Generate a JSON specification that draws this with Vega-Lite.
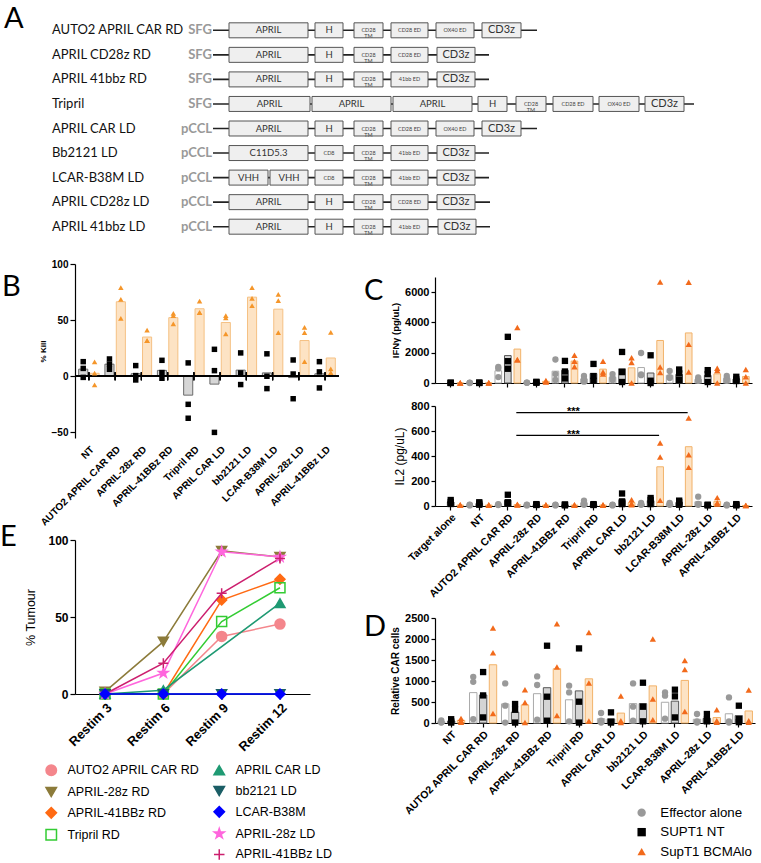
{
"$schema":"https://vega.github.io/schema/vega-lite/v6.json",
"background":"white",
"padding":0,
"config":{
 "view":{"stroke":null},
 "font":"Liberation Sans",
 "axis":{"grid":false,"labelFont":"Liberation Sans","titleFont":"Liberation Sans","labelColor":"#000","titleColor":"#000","domainColor":"#000","tickColor":"#000","labelFontWeight":"bold","labelFontSize":10.5,"titleFontSize":10,"titleFontWeight":"bold","domainWidth":1.2,"tickWidth":1.2,"tickSize":4},
 "title":{"font":"Lato","fontSize":29,"fontWeight":"normal","anchor":"start","frame":"group","baseline":"top","color":"#000"},
 "legend":{"labelFont":"Liberation Sans","labelColor":"#000"}
},
"datasets":{
 "constructs":[
  {"construct":"AUTO2 APRIL CAR RD","vector":"SFG","lineStart":213,"lineEnd":537},
  {"construct":"APRIL CD28z RD","vector":"SFG","lineStart":213,"lineEnd":489},
  {"construct":"APRIL 41bbz RD","vector":"SFG","lineStart":213,"lineEnd":489},
  {"construct":"Tripril","vector":"SFG","lineStart":213,"lineEnd":694},
  {"construct":"APRIL CAR LD","vector":"pCCL","lineStart":213,"lineEnd":537},
  {"construct":"Bb2121 LD","vector":"pCCL","lineStart":213,"lineEnd":489},
  {"construct":"LCAR-B38M LD","vector":"pCCL","lineStart":213,"lineEnd":489},
  {"construct":"APRIL CD28z LD","vector":"pCCL","lineStart":213,"lineEnd":490},
  {"construct":"APRIL 41bbz LD","vector":"pCCL","lineStart":213,"lineEnd":490}
 ],
 "parts":[
  {"construct":"AUTO2 APRIL CAR RD","key":"APRIL","label":"APRIL","start":229,"end":308},
  {"construct":"AUTO2 APRIL CAR RD","key":"H","label":"H","start":315,"end":343},
  {"construct":"AUTO2 APRIL CAR RD","key":"TM","label":"CD28\nTM","start":354,"end":383},
  {"construct":"AUTO2 APRIL CAR RD","key":"CD28ED","label":"CD28 ED","start":391,"end":428},
  {"construct":"AUTO2 APRIL CAR RD","key":"OX40ED","label":"OX40 ED","start":436,"end":474},
  {"construct":"AUTO2 APRIL CAR RD","key":"CD3z","label":"CD3z","start":482,"end":521},
  {"construct":"APRIL CD28z RD","key":"APRIL","label":"APRIL","start":229,"end":308},
  {"construct":"APRIL CD28z RD","key":"H","label":"H","start":315,"end":343},
  {"construct":"APRIL CD28z RD","key":"TM","label":"CD28\nTM","start":354,"end":383},
  {"construct":"APRIL CD28z RD","key":"CD28ED","label":"CD28 ED","start":391,"end":428},
  {"construct":"APRIL CD28z RD","key":"CD3z","label":"CD3z","start":437,"end":475},
  {"construct":"APRIL 41bbz RD","key":"APRIL","label":"APRIL","start":229,"end":308},
  {"construct":"APRIL 41bbz RD","key":"H","label":"H","start":315,"end":343},
  {"construct":"APRIL 41bbz RD","key":"TM","label":"CD28\nTM","start":354,"end":383},
  {"construct":"APRIL 41bbz RD","key":"41bbED","label":"41bb ED","start":391,"end":428},
  {"construct":"APRIL 41bbz RD","key":"CD3z","label":"CD3z","start":437,"end":475},
  {"construct":"Tripril","key":"APRIL1","label":"APRIL","start":229,"end":310},
  {"construct":"Tripril","key":"APRIL2","label":"APRIL","start":312,"end":391},
  {"construct":"Tripril","key":"APRIL3","label":"APRIL","start":393,"end":472},
  {"construct":"Tripril","key":"H","label":"H","start":478,"end":507},
  {"construct":"Tripril","key":"TM","label":"CD28\nTM","start":516,"end":546},
  {"construct":"Tripril","key":"CD28ED","label":"CD28 ED","start":553,"end":593},
  {"construct":"Tripril","key":"OX40ED","label":"OX40 ED","start":599,"end":639},
  {"construct":"Tripril","key":"CD3z","label":"CD3z","start":645,"end":684},
  {"construct":"APRIL CAR LD","key":"APRIL","label":"APRIL","start":229,"end":308},
  {"construct":"APRIL CAR LD","key":"H","label":"H","start":315,"end":343},
  {"construct":"APRIL CAR LD","key":"TM","label":"CD28\nTM","start":354,"end":383},
  {"construct":"APRIL CAR LD","key":"CD28ED","label":"CD28 ED","start":391,"end":428},
  {"construct":"APRIL CAR LD","key":"OX40ED","label":"OX40 ED","start":436,"end":474},
  {"construct":"APRIL CAR LD","key":"CD3z","label":"CD3z","start":482,"end":521},
  {"construct":"Bb2121 LD","key":"C11","label":"C11D5.3","start":229,"end":308},
  {"construct":"Bb2121 LD","key":"CD8","label":"CD8","start":315,"end":343},
  {"construct":"Bb2121 LD","key":"TM","label":"CD28\nTM","start":354,"end":383},
  {"construct":"Bb2121 LD","key":"41bbED","label":"41bb ED","start":391,"end":428},
  {"construct":"Bb2121 LD","key":"CD3z","label":"CD3z","start":437,"end":475},
  {"construct":"LCAR-B38M LD","key":"VHH1","label":"VHH","start":229,"end":268},
  {"construct":"LCAR-B38M LD","key":"VHH2","label":"VHH","start":270,"end":308},
  {"construct":"LCAR-B38M LD","key":"CD8","label":"CD8","start":315,"end":343},
  {"construct":"LCAR-B38M LD","key":"TM","label":"CD28\nTM","start":354,"end":383},
  {"construct":"LCAR-B38M LD","key":"41bbED","label":"41bb ED","start":391,"end":428},
  {"construct":"LCAR-B38M LD","key":"CD3z","label":"CD3z","start":437,"end":475},
  {"construct":"APRIL CD28z LD","key":"APRIL","label":"APRIL","start":229,"end":308},
  {"construct":"APRIL CD28z LD","key":"H","label":"H","start":315,"end":343},
  {"construct":"APRIL CD28z LD","key":"TM","label":"CD28\nTM","start":354,"end":383},
  {"construct":"APRIL CD28z LD","key":"CD28ED","label":"CD28 ED","start":391,"end":428},
  {"construct":"APRIL CD28z LD","key":"CD3z","label":"CD3z","start":437,"end":475},
  {"construct":"APRIL 41bbz LD","key":"APRIL","label":"APRIL","start":229,"end":308},
  {"construct":"APRIL 41bbz LD","key":"H","label":"H","start":315,"end":343},
  {"construct":"APRIL 41bbz LD","key":"TM","label":"CD28\nTM","start":354,"end":383},
  {"construct":"APRIL 41bbz LD","key":"41bbED","label":"41bb ED","start":391,"end":428},
  {"construct":"APRIL 41bbz LD","key":"CD3z","label":"CD3z","start":438,"end":476}
 ],
 "kill":[
  {"group":"NT","target":"SUPT1 NT","value":13},{"group":"NT","target":"SUPT1 NT","value":7},{"group":"NT","target":"SUPT1 NT","value":-1},
  {"group":"NT","target":"SupT1 BCMAlo","value":12.9},{"group":"NT","target":"SupT1 BCMAlo","value":2.7},{"group":"NT","target":"SupT1 BCMAlo","value":-7.7},
  {"group":"AUTO2 APRIL CAR RD","target":"SUPT1 NT","value":15.4},{"group":"AUTO2 APRIL CAR RD","target":"SUPT1 NT","value":10.7},{"group":"AUTO2 APRIL CAR RD","target":"SUPT1 NT","value":6.2},
  {"group":"AUTO2 APRIL CAR RD","target":"SupT1 BCMAlo","value":79},{"group":"AUTO2 APRIL CAR RD","target":"SupT1 BCMAlo","value":68.5},{"group":"AUTO2 APRIL CAR RD","target":"SupT1 BCMAlo","value":51.6},
  {"group":"APRIL-28z RD","target":"SUPT1 NT","value":9.5},{"group":"APRIL-28z RD","target":"SUPT1 NT","value":0.6},{"group":"APRIL-28z RD","target":"SUPT1 NT","value":-3.3},
  {"group":"APRIL-28z RD","target":"SupT1 BCMAlo","value":41.2},{"group":"APRIL-28z RD","target":"SupT1 BCMAlo","value":31.8},{"group":"APRIL-28z RD","target":"SupT1 BCMAlo","value":31.8},
  {"group":"APRIL-41BBz RD","target":"SUPT1 NT","value":14.2},{"group":"APRIL-41BBz RD","target":"SUPT1 NT","value":3.3},{"group":"APRIL-41BBz RD","target":"SUPT1 NT","value":-1.8},
  {"group":"APRIL-41BBz RD","target":"SupT1 BCMAlo","value":56},{"group":"APRIL-41BBz RD","target":"SupT1 BCMAlo","value":54},{"group":"APRIL-41BBz RD","target":"SupT1 BCMAlo","value":46.6},
  {"group":"Tripril RD","target":"SUPT1 NT","value":11.9},{"group":"Tripril RD","target":"SUPT1 NT","value":-25},{"group":"Tripril RD","target":"SUPT1 NT","value":-37.4},
  {"group":"Tripril RD","target":"SupT1 BCMAlo","value":67},{"group":"Tripril RD","target":"SupT1 BCMAlo","value":56.7},{"group":"Tripril RD","target":"SupT1 BCMAlo","value":56.7},
  {"group":"APRIL CAR LD","target":"SUPT1 NT","value":24},{"group":"APRIL CAR LD","target":"SUPT1 NT","value":5},{"group":"APRIL CAR LD","target":"SUPT1 NT","value":-50},
  {"group":"APRIL CAR LD","target":"SupT1 BCMAlo","value":54},{"group":"APRIL CAR LD","target":"SupT1 BCMAlo","value":52},{"group":"APRIL CAR LD","target":"SupT1 BCMAlo","value":37.7},
  {"group":"bb2121 LD","target":"SUPT1 NT","value":20.8},{"group":"bb2121 LD","target":"SUPT1 NT","value":3},{"group":"bb2121 LD","target":"SUPT1 NT","value":-7.4},
  {"group":"bb2121 LD","target":"SupT1 BCMAlo","value":79},{"group":"bb2121 LD","target":"SupT1 BCMAlo","value":69.4},{"group":"bb2121 LD","target":"SupT1 BCMAlo","value":63},
  {"group":"LCAR-B38M LD","target":"SUPT1 NT","value":20},{"group":"LCAR-B38M LD","target":"SUPT1 NT","value":0},{"group":"LCAR-B38M LD","target":"SUPT1 NT","value":-11},
  {"group":"LCAR-B38M LD","target":"SupT1 BCMAlo","value":73},{"group":"LCAR-B38M LD","target":"SupT1 BCMAlo","value":67.4},{"group":"LCAR-B38M LD","target":"SupT1 BCMAlo","value":38.9},
  {"group":"APRIL-28z LD","target":"SUPT1 NT","value":14.5},{"group":"APRIL-28z LD","target":"SUPT1 NT","value":2},{"group":"APRIL-28z LD","target":"SUPT1 NT","value":-20},
  {"group":"APRIL-28z LD","target":"SupT1 BCMAlo","value":43.6},{"group":"APRIL-28z LD","target":"SupT1 BCMAlo","value":38.9},{"group":"APRIL-28z LD","target":"SupT1 BCMAlo","value":13},
  {"group":"APRIL-41BBz LD","target":"SUPT1 NT","value":13},{"group":"APRIL-41BBz LD","target":"SUPT1 NT","value":3.9},{"group":"APRIL-41BBz LD","target":"SUPT1 NT","value":-10.4},
  {"group":"APRIL-41BBz LD","target":"SupT1 BCMAlo","value":39},{"group":"APRIL-41BBz LD","target":"SupT1 BCMAlo","value":6.5},{"group":"APRIL-41BBz LD","target":"SupT1 BCMAlo","value":3.3}
 ],
 "cyto":[
  {"group":"Target alone","target":"SUPT1 NT","ifn":20,"il2":48},{"group":"Target alone","target":"SUPT1 NT","ifn":10,"il2":32},{"group":"Target alone","target":"SUPT1 NT","ifn":0,"il2":16},
  {"group":"Target alone","target":"SupT1 BCMAlo","ifn":10,"il2":10},{"group":"Target alone","target":"SupT1 BCMAlo","ifn":0,"il2":8},{"group":"Target alone","target":"SupT1 BCMAlo","ifn":0,"il2":5},
  {"group":"NT","target":"Effector alone","ifn":20,"il2":10},{"group":"NT","target":"Effector alone","ifn":10,"il2":8},{"group":"NT","target":"Effector alone","ifn":0,"il2":5},
  {"group":"NT","target":"SUPT1 NT","ifn":30,"il2":30},{"group":"NT","target":"SUPT1 NT","ifn":10,"il2":20},{"group":"NT","target":"SUPT1 NT","ifn":0,"il2":10},
  {"group":"NT","target":"SupT1 BCMAlo","ifn":20,"il2":10},{"group":"NT","target":"SupT1 BCMAlo","ifn":10,"il2":8},{"group":"NT","target":"SupT1 BCMAlo","ifn":0,"il2":5},
  {"group":"AUTO2 APRIL CAR RD","target":"Effector alone","ifn":1070,"il2":15},{"group":"AUTO2 APRIL CAR RD","target":"Effector alone","ifn":960,"il2":10},{"group":"AUTO2 APRIL CAR RD","target":"Effector alone","ifn":390,"il2":8},
  {"group":"AUTO2 APRIL CAR RD","target":"SUPT1 NT","ifn":3050,"il2":90},{"group":"AUTO2 APRIL CAR RD","target":"SUPT1 NT","ifn":1440,"il2":30},{"group":"AUTO2 APRIL CAR RD","target":"SUPT1 NT","ifn":940,"il2":20},
  {"group":"AUTO2 APRIL CAR RD","target":"SupT1 BCMAlo","ifn":3660,"il2":15},{"group":"AUTO2 APRIL CAR RD","target":"SupT1 BCMAlo","ifn":1530,"il2":10},{"group":"AUTO2 APRIL CAR RD","target":"SupT1 BCMAlo","ifn":1530,"il2":8},
  {"group":"APRIL-28z RD","target":"Effector alone","ifn":30,"il2":10},{"group":"APRIL-28z RD","target":"Effector alone","ifn":20,"il2":8},{"group":"APRIL-28z RD","target":"Effector alone","ifn":10,"il2":5},
  {"group":"APRIL-28z RD","target":"SUPT1 NT","ifn":80,"il2":15},{"group":"APRIL-28z RD","target":"SUPT1 NT","ifn":40,"il2":10},{"group":"APRIL-28z RD","target":"SUPT1 NT","ifn":20,"il2":8},
  {"group":"APRIL-28z RD","target":"SupT1 BCMAlo","ifn":170,"il2":10},{"group":"APRIL-28z RD","target":"SupT1 BCMAlo","ifn":100,"il2":8},{"group":"APRIL-28z RD","target":"SupT1 BCMAlo","ifn":60,"il2":5},
  {"group":"APRIL-41BBz RD","target":"Effector alone","ifn":1550,"il2":10},{"group":"APRIL-41BBz RD","target":"Effector alone","ifn":590,"il2":8},{"group":"APRIL-41BBz RD","target":"Effector alone","ifn":200,"il2":5},
  {"group":"APRIL-41BBz RD","target":"SUPT1 NT","ifn":1460,"il2":12},{"group":"APRIL-41BBz RD","target":"SUPT1 NT","ifn":760,"il2":10},{"group":"APRIL-41BBz RD","target":"SUPT1 NT","ifn":300,"il2":5},
  {"group":"APRIL-41BBz RD","target":"SupT1 BCMAlo","ifn":1830,"il2":10},{"group":"APRIL-41BBz RD","target":"SupT1 BCMAlo","ifn":1440,"il2":8},{"group":"APRIL-41BBz RD","target":"SupT1 BCMAlo","ifn":1070,"il2":5},
  {"group":"Tripril RD","target":"Effector alone","ifn":460,"il2":43},{"group":"Tripril RD","target":"Effector alone","ifn":260,"il2":24},{"group":"Tripril RD","target":"Effector alone","ifn":90,"il2":10},
  {"group":"Tripril RD","target":"SUPT1 NT","ifn":1260,"il2":15},{"group":"Tripril RD","target":"SUPT1 NT","ifn":460,"il2":10},{"group":"Tripril RD","target":"SUPT1 NT","ifn":150,"il2":8},
  {"group":"Tripril RD","target":"SupT1 BCMAlo","ifn":1440,"il2":10},{"group":"Tripril RD","target":"SupT1 BCMAlo","ifn":720,"il2":8},{"group":"Tripril RD","target":"SupT1 BCMAlo","ifn":590,"il2":5},
  {"group":"APRIL CAR LD","target":"Effector alone","ifn":590,"il2":10},{"group":"APRIL CAR LD","target":"Effector alone","ifn":350,"il2":8},{"group":"APRIL CAR LD","target":"Effector alone","ifn":200,"il2":5},
  {"group":"APRIL CAR LD","target":"SUPT1 NT","ifn":2050,"il2":100},{"group":"APRIL CAR LD","target":"SUPT1 NT","ifn":720,"il2":37},{"group":"APRIL CAR LD","target":"SUPT1 NT","ifn":65,"il2":15},
  {"group":"APRIL CAR LD","target":"SupT1 BCMAlo","ifn":1660,"il2":50},{"group":"APRIL CAR LD","target":"SupT1 BCMAlo","ifn":1350,"il2":20},{"group":"APRIL CAR LD","target":"SupT1 BCMAlo","ifn":0,"il2":10},
  {"group":"bb2121 LD","target":"Effector alone","ifn":1980,"il2":24},{"group":"bb2121 LD","target":"Effector alone","ifn":520,"il2":15},{"group":"bb2121 LD","target":"Effector alone","ifn":560,"il2":10},
  {"group":"bb2121 LD","target":"SUPT1 NT","ifn":1830,"il2":64},{"group":"bb2121 LD","target":"SUPT1 NT","ifn":150,"il2":48},{"group":"bb2121 LD","target":"SUPT1 NT","ifn":0,"il2":15},
  {"group":"bb2121 LD","target":"SupT1 BCMAlo","ifn":6670,"il2":504},{"group":"bb2121 LD","target":"SupT1 BCMAlo","ifn":1050,"il2":392},{"group":"bb2121 LD","target":"SupT1 BCMAlo","ifn":700,"il2":45},
  {"group":"LCAR-B38M LD","target":"Effector alone","ifn":800,"il2":24},{"group":"LCAR-B38M LD","target":"Effector alone","ifn":390,"il2":15},{"group":"LCAR-B38M LD","target":"Effector alone","ifn":330,"il2":10},
  {"group":"LCAR-B38M LD","target":"SUPT1 NT","ifn":890,"il2":43},{"group":"LCAR-B38M LD","target":"SUPT1 NT","ifn":630,"il2":32},{"group":"LCAR-B38M LD","target":"SUPT1 NT","ifn":200,"il2":10},
  {"group":"LCAR-B38M LD","target":"SupT1 BCMAlo","ifn":6650,"il2":704},{"group":"LCAR-B38M LD","target":"SupT1 BCMAlo","ifn":2550,"il2":410},{"group":"LCAR-B38M LD","target":"SupT1 BCMAlo","ifn":720,"il2":309},
  {"group":"APRIL-28z LD","target":"Effector alone","ifn":370,"il2":75},{"group":"APRIL-28z LD","target":"Effector alone","ifn":200,"il2":16},{"group":"APRIL-28z LD","target":"Effector alone","ifn":150,"il2":10},
  {"group":"APRIL-28z LD","target":"SUPT1 NT","ifn":850,"il2":10},{"group":"APRIL-28z LD","target":"SUPT1 NT","ifn":590,"il2":8},{"group":"APRIL-28z LD","target":"SUPT1 NT","ifn":65,"il2":5},
  {"group":"APRIL-28z LD","target":"SupT1 BCMAlo","ifn":980,"il2":67},{"group":"APRIL-28z LD","target":"SupT1 BCMAlo","ifn":830,"il2":27},{"group":"APRIL-28z LD","target":"SupT1 BCMAlo","ifn":0,"il2":16},
  {"group":"APRIL-41BBz LD","target":"Effector alone","ifn":460,"il2":10},{"group":"APRIL-41BBz LD","target":"Effector alone","ifn":300,"il2":8},{"group":"APRIL-41BBz LD","target":"Effector alone","ifn":150,"il2":5},
  {"group":"APRIL-41BBz LD","target":"SUPT1 NT","ifn":410,"il2":15},{"group":"APRIL-41BBz LD","target":"SUPT1 NT","ifn":240,"il2":10},{"group":"APRIL-41BBz LD","target":"SUPT1 NT","ifn":130,"il2":5},
  {"group":"APRIL-41BBz LD","target":"SupT1 BCMAlo","ifn":890,"il2":5},{"group":"APRIL-41BBz LD","target":"SupT1 BCMAlo","ifn":410,"il2":4},{"group":"APRIL-41BBz LD","target":"SupT1 BCMAlo","ifn":0,"il2":3}
 ],
 "sigline":[
  {"bracket":"b1","group":"AUTO2 APRIL CAR RD","y":747},{"bracket":"b1","group":"LCAR-B38M LD","y":747},
  {"bracket":"b2","group":"AUTO2 APRIL CAR RD","y":565},{"bracket":"b2","group":"bb2121 LD","y":565}
 ],
 "sigtext":[
  {"group":"APRIL-41BBz RD","y":747,"label":"***"},
  {"group":"APRIL-41BBz RD","y":565,"label":"***"}
 ],
 "car":[
  {"group":"NT","target":"Effector alone","value":60},{"group":"NT","target":"Effector alone","value":20},{"group":"NT","target":"Effector alone","value":10},
  {"group":"NT","target":"SUPT1 NT","value":90},{"group":"NT","target":"SUPT1 NT","value":40},{"group":"NT","target":"SUPT1 NT","value":10},
  {"group":"NT","target":"SupT1 BCMAlo","value":110},{"group":"NT","target":"SupT1 BCMAlo","value":60},{"group":"NT","target":"SupT1 BCMAlo","value":20},
  {"group":"AUTO2 APRIL CAR RD","target":"Effector alone","value":1100},{"group":"AUTO2 APRIL CAR RD","target":"Effector alone","value":980},{"group":"AUTO2 APRIL CAR RD","target":"Effector alone","value":90},
  {"group":"AUTO2 APRIL CAR RD","target":"SUPT1 NT","value":1213},{"group":"AUTO2 APRIL CAR RD","target":"SUPT1 NT","value":657},{"group":"AUTO2 APRIL CAR RD","target":"SUPT1 NT","value":133},
  {"group":"AUTO2 APRIL CAR RD","target":"SupT1 BCMAlo","value":2260},{"group":"AUTO2 APRIL CAR RD","target":"SupT1 BCMAlo","value":1673},{"group":"AUTO2 APRIL CAR RD","target":"SupT1 BCMAlo","value":228},
  {"group":"APRIL-28z RD","target":"Effector alone","value":943},{"group":"APRIL-28z RD","target":"Effector alone","value":412},{"group":"APRIL-28z RD","target":"Effector alone","value":10},
  {"group":"APRIL-28z RD","target":"SUPT1 NT","value":452},{"group":"APRIL-28z RD","target":"SUPT1 NT","value":316},{"group":"APRIL-28z RD","target":"SUPT1 NT","value":10},
  {"group":"APRIL-28z RD","target":"SupT1 BCMAlo","value":793},{"group":"APRIL-28z RD","target":"SupT1 BCMAlo","value":490},{"group":"APRIL-28z RD","target":"SupT1 BCMAlo","value":10},
  {"group":"APRIL-41BBz RD","target":"Effector alone","value":1110},{"group":"APRIL-41BBz RD","target":"Effector alone","value":904},{"group":"APRIL-41BBz RD","target":"Effector alone","value":80},
  {"group":"APRIL-41BBz RD","target":"SUPT1 NT","value":1840},{"group":"APRIL-41BBz RD","target":"SUPT1 NT","value":626},{"group":"APRIL-41BBz RD","target":"SUPT1 NT","value":55},
  {"group":"APRIL-41BBz RD","target":"SupT1 BCMAlo","value":2363},{"group":"APRIL-41BBz RD","target":"SupT1 BCMAlo","value":1333},{"group":"APRIL-41BBz RD","target":"SupT1 BCMAlo","value":181},
  {"group":"Tripril RD","target":"Effector alone","value":888},{"group":"Tripril RD","target":"Effector alone","value":729},{"group":"Tripril RD","target":"Effector alone","value":40},
  {"group":"Tripril RD","target":"SUPT1 NT","value":1776},{"group":"Tripril RD","target":"SUPT1 NT","value":507},{"group":"Tripril RD","target":"SUPT1 NT","value":10},
  {"group":"Tripril RD","target":"SupT1 BCMAlo","value":2157},{"group":"Tripril RD","target":"SupT1 BCMAlo","value":952},{"group":"Tripril RD","target":"SupT1 BCMAlo","value":48},
  {"group":"APRIL CAR LD","target":"Effector alone","value":238},{"group":"APRIL CAR LD","target":"Effector alone","value":55},{"group":"APRIL CAR LD","target":"Effector alone","value":10},
  {"group":"APRIL CAR LD","target":"SUPT1 NT","value":253},{"group":"APRIL CAR LD","target":"SUPT1 NT","value":30},{"group":"APRIL CAR LD","target":"SUPT1 NT","value":10},
  {"group":"APRIL CAR LD","target":"SupT1 BCMAlo","value":642},{"group":"APRIL CAR LD","target":"SupT1 BCMAlo","value":55},{"group":"APRIL CAR LD","target":"SupT1 BCMAlo","value":10},
  {"group":"bb2121 LD","target":"Effector alone","value":943},{"group":"bb2121 LD","target":"Effector alone","value":388},{"group":"bb2121 LD","target":"Effector alone","value":55},
  {"group":"bb2121 LD","target":"SUPT1 NT","value":959},{"group":"bb2121 LD","target":"SUPT1 NT","value":388},{"group":"bb2121 LD","target":"SUPT1 NT","value":40},
  {"group":"bb2121 LD","target":"SupT1 BCMAlo","value":2000},{"group":"bb2121 LD","target":"SupT1 BCMAlo","value":571},{"group":"bb2121 LD","target":"SupT1 BCMAlo","value":80},
  {"group":"LCAR-B38M LD","target":"Effector alone","value":729},{"group":"LCAR-B38M LD","target":"Effector alone","value":650},{"group":"LCAR-B38M LD","target":"Effector alone","value":103},
  {"group":"LCAR-B38M LD","target":"SUPT1 NT","value":793},{"group":"LCAR-B38M LD","target":"SUPT1 NT","value":634},{"group":"LCAR-B38M LD","target":"SUPT1 NT","value":133},
  {"group":"LCAR-B38M LD","target":"SupT1 BCMAlo","value":1490},{"group":"LCAR-B38M LD","target":"SupT1 BCMAlo","value":1276},{"group":"LCAR-B38M LD","target":"SupT1 BCMAlo","value":276},
  {"group":"APRIL-28z LD","target":"Effector alone","value":214},{"group":"APRIL-28z LD","target":"Effector alone","value":40},{"group":"APRIL-28z LD","target":"Effector alone","value":10},
  {"group":"APRIL-28z LD","target":"SUPT1 NT","value":214},{"group":"APRIL-28z LD","target":"SUPT1 NT","value":80},{"group":"APRIL-28z LD","target":"SUPT1 NT","value":40},
  {"group":"APRIL-28z LD","target":"SupT1 BCMAlo","value":316},{"group":"APRIL-28z LD","target":"SupT1 BCMAlo","value":55},{"group":"APRIL-28z LD","target":"SupT1 BCMAlo","value":20},
  {"group":"APRIL-41BBz LD","target":"Effector alone","value":609},{"group":"APRIL-41BBz LD","target":"Effector alone","value":40},{"group":"APRIL-41BBz LD","target":"Effector alone","value":10},
  {"group":"APRIL-41BBz LD","target":"SUPT1 NT","value":412},{"group":"APRIL-41BBz LD","target":"SUPT1 NT","value":95},{"group":"APRIL-41BBz LD","target":"SUPT1 NT","value":20},
  {"group":"APRIL-41BBz LD","target":"SupT1 BCMAlo","value":785},{"group":"APRIL-41BBz LD","target":"SupT1 BCMAlo","value":55},{"group":"APRIL-41BBz LD","target":"SupT1 BCMAlo","value":20}
 ],
 "tumour":[
  {"construct":"AUTO2 APRIL CAR RD","design":"RD","restim":"Restim 3","value":0},{"construct":"AUTO2 APRIL CAR RD","design":"RD","restim":"Restim 6","value":0},{"construct":"AUTO2 APRIL CAR RD","design":"RD","restim":"Restim 9","value":37.4},{"construct":"AUTO2 APRIL CAR RD","design":"RD","restim":"Restim 12","value":45.4},
  {"construct":"APRIL-28z RD","design":"RD","restim":"Restim 3","value":1.5},{"construct":"APRIL-28z RD","design":"RD","restim":"Restim 6","value":34},{"construct":"APRIL-28z RD","design":"RD","restim":"Restim 9","value":93},{"construct":"APRIL-28z RD","design":"RD","restim":"Restim 12","value":89},
  {"construct":"APRIL-41BBz RD","design":"RD","restim":"Restim 3","value":0},{"construct":"APRIL-41BBz RD","design":"RD","restim":"Restim 6","value":0},{"construct":"APRIL-41BBz RD","design":"RD","restim":"Restim 9","value":61},{"construct":"APRIL-41BBz RD","design":"RD","restim":"Restim 12","value":74.5},
  {"construct":"Tripril RD","design":"RD","restim":"Restim 3","value":0},{"construct":"Tripril RD","design":"RD","restim":"Restim 6","value":0},{"construct":"Tripril RD","design":"RD","restim":"Restim 9","value":47},{"construct":"Tripril RD","design":"RD","restim":"Restim 12","value":69},
  {"construct":"APRIL CAR LD","design":"LD","restim":"Restim 3","value":0},{"construct":"APRIL CAR LD","design":"LD","restim":"Restim 6","value":2.5},{"construct":"APRIL CAR LD","design":"LD","restim":"Restim 12","value":59},
  {"construct":"bb2121 LD","design":"LD","restim":"Restim 3","value":0},{"construct":"bb2121 LD","design":"LD","restim":"Restim 6","value":0},{"construct":"bb2121 LD","design":"LD","restim":"Restim 9","value":0},{"construct":"bb2121 LD","design":"LD","restim":"Restim 12","value":0},
  {"construct":"APRIL-28z LD","design":"LD","restim":"Restim 3","value":0},{"construct":"APRIL-28z LD","design":"LD","restim":"Restim 6","value":13.6},{"construct":"APRIL-28z LD","design":"LD","restim":"Restim 9","value":92.4},{"construct":"APRIL-28z LD","design":"LD","restim":"Restim 12","value":89},
  {"construct":"APRIL-41BBz LD","design":"LD","restim":"Restim 3","value":0},{"construct":"APRIL-41BBz LD","design":"LD","restim":"Restim 6","value":20},{"construct":"APRIL-41BBz LD","design":"LD","restim":"Restim 9","value":65.4},{"construct":"APRIL-41BBz LD","design":"LD","restim":"Restim 12","value":88},
  {"construct":"LCAR-B38M","design":"LD","restim":"Restim 3","value":0},{"construct":"LCAR-B38M","design":"LD","restim":"Restim 6","value":0},{"construct":"LCAR-B38M","design":"LD","restim":"Restim 9","value":0},{"construct":"LCAR-B38M","design":"LD","restim":"Restim 12","value":0}
 ]
},
"resolve":{"scale":{"color":"independent","fill":"independent","stroke":"independent","shape":"independent","xOffset":"independent"}},
"spacing":2,
"vconcat":[
 {
  "width":686,"height":257,
  "title":{"text":"A","offset":-34,"dx":-71},
  "layer":[
   {"data":{"name":"constructs"},"mark":{"type":"rule","strokeWidth":1.6,"color":"#222"},
    "encoding":{"x":{"field":"lineStart","type":"quantitative","scale":{"domain":[75,761],"nice":false,"zero":false},"axis":null},"x2":{"field":"lineEnd"},
     "y":{"field":"construct","type":"nominal","scale":{"type":"band","domain":["AUTO2 APRIL CAR RD","APRIL CD28z RD","APRIL 41bbz RD","Tripril","APRIL CAR LD","Bb2121 LD","LCAR-B38M LD","APRIL CD28z LD","APRIL 41bbz LD"],"paddingInner":0.39,"paddingOuter":0.93},"axis":null}}},
   {"data":{"name":"parts"},"mark":{"type":"rect","fill":"#efefef","stroke":"#555","strokeWidth":1},
    "encoding":{"x":{"field":"start","type":"quantitative"},"x2":{"field":"end"},"y":{"field":"construct","type":"nominal"}}},
   {"data":{"name":"parts"},"transform":[{"filter":{"field":"label","oneOf":["APRIL","H","C11D5.3","VHH"]}},{"fold":["start","end"],"as":["edge","pos"]}],
    "mark":{"type":"text","font":"Lato","fontSize":9.5,"color":"#333"},
    "encoding":{"x":{"aggregate":"mean","field":"pos","type":"quantitative"},"y":{"field":"construct","type":"nominal"},"text":{"field":"label","type":"nominal"},"detail":{"field":"key","type":"nominal"}}},
   {"data":{"name":"parts"},"transform":[{"filter":{"field":"label","oneOf":["CD3z"]}},{"fold":["start","end"],"as":["edge","pos"]}],
    "mark":{"type":"text","font":"Lato","fontSize":11,"color":"#333"},
    "encoding":{"x":{"aggregate":"mean","field":"pos","type":"quantitative"},"y":{"field":"construct","type":"nominal"},"text":{"field":"label","type":"nominal"},"detail":{"field":"key","type":"nominal"}}},
   {"data":{"name":"parts"},"transform":[{"filter":{"field":"label","oneOf":["CD28 ED","OX40 ED","41bb ED","CD8","CD28\nTM"]}},{"fold":["start","end"],"as":["edge","pos"]}],
    "mark":{"type":"text","font":"Lato","fontSize":5.5,"color":"#444","lineBreak":"\n","lineHeight":6},
    "encoding":{"x":{"aggregate":"mean","field":"pos","type":"quantitative"},"y":{"field":"construct","type":"nominal"},"text":{"field":"label","type":"nominal"},"detail":{"field":"key","type":"nominal"}}},
   {"data":{"name":"constructs"},"mark":{"type":"text","align":"left","font":"Lato","fontSize":13,"color":"#111"},
    "encoding":{"x":{"datum":52,"type":"quantitative"},"y":{"field":"construct","type":"nominal"},"text":{"field":"construct","type":"nominal"}}},
   {"data":{"name":"constructs"},"mark":{"type":"text","align":"right","font":"Lato","fontSize":13,"fontWeight":"bold","color":"#999"},
    "encoding":{"x":{"datum":212,"type":"quantitative"},"y":{"field":"construct","type":"nominal"},"text":{"field":"vector","type":"nominal"}}}
  ]
 },
 {
  "spacing":24,
  "resolve":{"scale":{"color":"independent","fill":"independent","stroke":"independent","shape":"independent","xOffset":"independent"}},
  "hconcat":[
   {
    "spacing":-5,
    "resolve":{"scale":{"color":"independent","fill":"independent","stroke":"independent","shape":"independent","xOffset":"independent"}},
    "vconcat":[
     {
      "width":264,"height":174,
      "title":{"text":"B","offset":-43,"dx":-73},
      "data":{"name":"kill"},
      "layer":[
       {"mark":{"type":"bar","strokeWidth":1},
        "encoding":{
         "x":{"field":"group","type":"nominal","scale":{"domain":["NT","AUTO2 APRIL CAR RD","APRIL-28z RD","APRIL-41BBz RD","Tripril RD","APRIL CAR LD","bb2121 LD","LCAR-B38M LD","APRIL-28z LD","APRIL-41BBz LD"],"paddingInner":0.22,"paddingOuter":0.14},"axis":{"title":null,"labelAngle":-45,"domain":false,"ticks":false,"labelFontSize":10,"labelPadding":6}},
         "xOffset":{"field":"target","type":"nominal","scale":{"domain":["SUPT1 NT","SupT1 BCMAlo"],"paddingInner":0.2}},
         "y":{"aggregate":"mean","field":"value","type":"quantitative","scale":{"domain":[-55,100],"nice":false},"axis":{"values":[-50,0,50,100],"title":"% Kill","format":"d","labelFontSize":10,"titleFontSize":8,"tickSize":5}},
         "fill":{"condition":{"test":"datum.target == 'SUPT1 NT'","value":"#d6d6d6"},"value":"#fde3c4"},
         "stroke":{"condition":{"test":"datum.target == 'SUPT1 NT'","value":"#6b6b6b"},"value":"#f5c184"}}},
       {"mark":{"type":"rule","color":"#000","strokeWidth":1.2},"encoding":{"y":{"datum":0,"type":"quantitative"}}},
       {"mark":{"type":"tick","color":"#000","thickness":1.2,"size":8,"orient":"vertical"},"encoding":{"x":{"field":"group","type":"nominal"},"y":{"datum":0,"type":"quantitative"}}},
       {"mark":{"type":"point","filled":true,"size":30,"opacity":1},
        "encoding":{
         "x":{"field":"group","type":"nominal"},
         "xOffset":{"field":"target","type":"nominal"},
         "y":{"field":"value","type":"quantitative","axis":{"values":[-50,0,50,100],"title":"% Kill","format":"d","labelFontSize":10,"titleFontSize":8,"tickSize":5}},
         "color":{"field":"target","type":"nominal","scale":{"domain":["SUPT1 NT","SupT1 BCMAlo"],"range":["#000000","#f5962a"]},"legend":null},
         "shape":{"field":"target","type":"nominal","scale":{"domain":["SUPT1 NT","SupT1 BCMAlo"],"range":["square","triangle-up"]},"legend":null}}}
      ]
     },
     {
      "width":235,"height":154,
      "title":{"text":"E","offset":-18,"dx":-75},
      "data":{"name":"tumour"},
      "resolve":{"scale":{"stroke":"independent","fill":"independent","shape":"independent"}},
      "layer":[
       {"transform":[{"filter":"datum.design == 'RD'"}],
        "layer":[
         {"mark":{"type":"line","strokeWidth":1.5},
          "encoding":{
           "x":{"field":"restim","type":"ordinal","sort":["Restim 3","Restim 6","Restim 9","Restim 12"],"scale":{"type":"point","padding":0.515},"axis":{"title":null,"labelAngle":-45,"labelFontSize":13,"tickSize":5}},
           "y":{"field":"value","type":"quantitative","scale":{"domain":[0,100],"nice":false},"axis":{"values":[0,50,100],"title":"% Tumour","titleFontWeight":"normal","titleFontSize":12.5,"labelFontSize":12,"tickSize":5,"titlePadding":10}},
           "stroke":{"field":"construct","type":"nominal","scale":{"domain":["AUTO2 APRIL CAR RD","APRIL-28z RD","APRIL-41BBz RD","Tripril RD"],"range":["#f4868c","#8c7b3a","#ff6a13","#33cc33"]},"legend":{"orient":"none","legendX":-30,"legendY":224,"title":null,"labelFontSize":12.5,"symbolSize":110,"rowPadding":4.8,"labelOffset":10,"padding":0,"symbolStrokeWidth":1.5}}}},
         {"mark":{"type":"point","size":100,"strokeWidth":1.5,"opacity":1},
          "encoding":{
           "x":{"field":"restim","type":"ordinal","sort":["Restim 3","Restim 6","Restim 9","Restim 12"]},
           "y":{"field":"value","type":"quantitative"},
           "stroke":{"field":"construct","type":"nominal","legend":{"orient":"none","legendX":-30,"legendY":224,"title":null,"labelFontSize":12.5,"symbolSize":110,"rowPadding":4.8,"labelOffset":10,"padding":0,"symbolStrokeWidth":1.5}},
           "fill":{"field":"construct","type":"nominal","scale":{"domain":["AUTO2 APRIL CAR RD","APRIL-28z RD","APRIL-41BBz RD","Tripril RD"],"range":["#f4868c","#8c7b3a","#ff6a13","transparent"]},"legend":{"orient":"none","legendX":-30,"legendY":224,"title":null,"labelFontSize":12.5,"symbolSize":110,"rowPadding":4.8,"labelOffset":10,"padding":0,"symbolStrokeWidth":1.5}},
           "shape":{"field":"construct","type":"nominal","scale":{"domain":["AUTO2 APRIL CAR RD","APRIL-28z RD","APRIL-41BBz RD","Tripril RD"],"range":["circle","triangle-down","diamond","square"]},"legend":{"orient":"none","legendX":-30,"legendY":224,"title":null,"labelFontSize":12.5,"symbolSize":110,"rowPadding":4.8,"labelOffset":10,"padding":0,"symbolStrokeWidth":1.5}}}}
        ]},
       {"transform":[{"filter":"datum.design == 'LD'"}],
        "layer":[
         {"mark":{"type":"line","strokeWidth":1.5},
          "encoding":{
           "x":{"field":"restim","type":"ordinal","sort":["Restim 3","Restim 6","Restim 9","Restim 12"]},
           "y":{"field":"value","type":"quantitative"},
           "stroke":{"field":"construct","type":"nominal","scale":{"domain":["APRIL CAR LD","bb2121 LD","LCAR-B38M","APRIL-28z LD","APRIL-41BBz LD"],"range":["#1f9a73","#1b5e66","#0000ff","#ff66dd","#cc1f6e"]},"legend":{"orient":"none","legendX":138,"legendY":224,"title":null,"labelFontSize":12.5,"symbolSize":110,"rowPadding":4.8,"labelOffset":10,"padding":0,"symbolStrokeWidth":1.5}}}},
         {"mark":{"type":"point","size":100,"strokeWidth":1.5,"opacity":1},
          "encoding":{
           "x":{"field":"restim","type":"ordinal","sort":["Restim 3","Restim 6","Restim 9","Restim 12"]},
           "y":{"field":"value","type":"quantitative"},
           "stroke":{"field":"construct","type":"nominal","legend":{"orient":"none","legendX":138,"legendY":224,"title":null,"labelFontSize":12.5,"symbolSize":110,"rowPadding":4.8,"labelOffset":10,"padding":0,"symbolStrokeWidth":1.5}},
           "fill":{"field":"construct","type":"nominal","scale":{"domain":["APRIL CAR LD","bb2121 LD","LCAR-B38M","APRIL-28z LD","APRIL-41BBz LD"],"range":["#1f9a73","#1b5e66","#0000ff","#ff66dd","transparent"]},"legend":{"orient":"none","legendX":138,"legendY":224,"title":null,"labelFontSize":12.5,"symbolSize":110,"rowPadding":4.8,"labelOffset":10,"padding":0,"symbolStrokeWidth":1.5}},
           "shape":{"field":"construct","type":"nominal","scale":{"domain":["APRIL CAR LD","bb2121 LD","LCAR-B38M","APRIL-28z LD","APRIL-41BBz LD"],"range":["triangle-up","triangle-down","diamond","M0,-1L0.2245,-0.309L0.951,-0.309L0.363,0.118L0.588,0.809L0,0.382L-0.588,0.809L-0.363,0.118L-0.951,-0.309L-0.2245,-0.309Z","M-1,0L1,0M0,-1L0,1"]},"legend":{"orient":"none","legendX":138,"legendY":224,"title":null,"labelFontSize":12.5,"symbolSize":110,"rowPadding":4.8,"labelOffset":10,"padding":0,"symbolStrokeWidth":1.5}}}}
        ]}
      ]
     }
    ]
   },
   {
    "spacing":12,
    "resolve":{"scale":{"color":"independent","fill":"independent","stroke":"independent","shape":"independent","xOffset":"independent"}},
    "vconcat":[
     {
      "width":317,"height":1,
      "data":{"values":[]},
      "mark":{"type":"point","opacity":0},
      "encoding":{}
     },
     {
      "width":317,"height":106,
      "title":{"text":"C","offset":-29,"dx":-71},
      "data":{"name":"cyto"},
      "layer":[
       {"mark":{"type":"bar","strokeWidth":1},
        "encoding":{
         "x":{"field":"group","type":"nominal","scale":{"domain":["Target alone","NT","AUTO2 APRIL CAR RD","APRIL-28z RD","APRIL-41BBz RD","Tripril RD","APRIL CAR LD","bb2121 LD","LCAR-B38M LD","APRIL-28z LD","APRIL-41BBz LD"],"paddingInner":0.1,"paddingOuter":0.1},"axis":{"title":null,"labels":false,"tickSize":4}},
         "xOffset":{"field":"target","type":"nominal","scale":{"domain":["Effector alone","SUPT1 NT","SupT1 BCMAlo"],"paddingInner":0.3}},
         "y":{"aggregate":"mean","field":"ifn","type":"quantitative","scale":{"domain":[0,7000],"nice":false},"axis":{"values":[0,2000,4000,6000],"format":"d","labelFontSize":11,"title":"IFNγ (pg/uL)","titleFontSize":9.5}},
         "fill":{"condition":[{"test":"datum.target == 'Effector alone'","value":"#ffffff"},{"test":"datum.target == 'SUPT1 NT'","value":"#d4d4d4"}],"value":"#fde3c4"},
         "stroke":{"condition":[{"test":"datum.target == 'Effector alone'","value":"#aaaaaa"},{"test":"datum.target == 'SUPT1 NT'","value":"#555555"}],"value":"#f2b36b"}}},
       {"mark":{"type":"point","filled":true,"size":40,"opacity":1},
        "encoding":{
         "x":{"field":"group","type":"nominal","axis":{"title":null,"labels":false,"tickSize":4}},
         "xOffset":{"field":"target","type":"nominal"},
         "y":{"field":"ifn","type":"quantitative","axis":{"values":[0,2000,4000,6000],"format":"d","labelFontSize":11,"title":"IFNγ (pg/uL)","titleFontSize":9.5}},
         "color":{"field":"target","type":"nominal","scale":{"domain":["Effector alone","SUPT1 NT","SupT1 BCMAlo"],"range":["#999999","#000000","#f26a1b"]},"legend":null},
         "shape":{"field":"target","type":"nominal","scale":{"domain":["Effector alone","SUPT1 NT","SupT1 BCMAlo"],"range":["circle","square","triangle-up"]},"legend":null}}}
      ]
     },
     {
      "width":317,"height":100,
      "layer":[
       {"data":{"name":"cyto"},"mark":{"type":"bar","strokeWidth":1},
        "encoding":{
         "x":{"field":"group","type":"nominal","scale":{"domain":["Target alone","NT","AUTO2 APRIL CAR RD","APRIL-28z RD","APRIL-41BBz RD","Tripril RD","APRIL CAR LD","bb2121 LD","LCAR-B38M LD","APRIL-28z LD","APRIL-41BBz LD"],"paddingInner":0.1,"paddingOuter":0.1},"axis":{"title":null,"labelAngle":-45,"labelFontSize":10.5,"tickSize":4}},
         "xOffset":{"field":"target","type":"nominal","scale":{"domain":["Effector alone","SUPT1 NT","SupT1 BCMAlo"],"paddingInner":0.3}},
         "y":{"aggregate":"mean","field":"il2","type":"quantitative","scale":{"domain":[0,800],"nice":false},"axis":{"values":[0,200,400,600,800],"format":"d","labelFontSize":11,"title":"IL2 (pg/uL)","titleFontWeight":"normal","titleFontSize":12}},
         "fill":{"condition":[{"test":"datum.target == 'Effector alone'","value":"#ffffff"},{"test":"datum.target == 'SUPT1 NT'","value":"#d4d4d4"}],"value":"#fde3c4"},
         "stroke":{"condition":[{"test":"datum.target == 'Effector alone'","value":"#aaaaaa"},{"test":"datum.target == 'SUPT1 NT'","value":"#555555"}],"value":"#f2b36b"}}},
       {"data":{"name":"cyto"},"mark":{"type":"point","filled":true,"size":40,"opacity":1},
        "encoding":{
         "x":{"field":"group","type":"nominal","axis":{"title":null,"labelAngle":-45,"labelFontSize":10.5,"tickSize":4}},
         "xOffset":{"field":"target","type":"nominal"},
         "y":{"field":"il2","type":"quantitative","axis":{"values":[0,200,400,600,800],"format":"d","labelFontSize":11,"title":"IL2 (pg/uL)","titleFontWeight":"normal","titleFontSize":12}},
         "color":{"field":"target","type":"nominal","scale":{"domain":["Effector alone","SUPT1 NT","SupT1 BCMAlo"],"range":["#999999","#000000","#f26a1b"]},"legend":null},
         "shape":{"field":"target","type":"nominal","scale":{"domain":["Effector alone","SUPT1 NT","SupT1 BCMAlo"],"range":["circle","square","triangle-up"]},"legend":null}}},
       {"data":{"name":"sigline"},"mark":{"type":"line","strokeWidth":1.3,"color":"#000"},
        "encoding":{
         "x":{"field":"group","type":"nominal","bandPosition":0.83,"axis":{"title":null,"labelAngle":-45,"labelFontSize":10.5,"tickSize":4}},
         "y":{"field":"y","type":"quantitative","axis":{"values":[0,200,400,600,800],"format":"d","labelFontSize":11,"title":"IL2 (pg/uL)","titleFontWeight":"normal","titleFontSize":12}},
         "detail":{"field":"bracket","type":"nominal"}}},
       {"data":{"name":"sigtext"},"mark":{"type":"text","fontWeight":"bold","fontSize":11,"baseline":"alphabetic","dy":2.5,"font":"Liberation Sans"},
        "encoding":{
         "x":{"field":"group","type":"nominal","bandPosition":0.83,"axis":{"title":null,"labelAngle":-45,"labelFontSize":10.5,"tickSize":4}},
         "y":{"field":"y","type":"quantitative","axis":{"values":[0,200,400,600,800],"format":"d","labelFontSize":11,"title":"IL2 (pg/uL)","titleFontWeight":"normal","titleFontSize":12}},
         "text":{"field":"label","type":"nominal"}}}
      ]
     },
     {
      "width":320,"height":105,
      "title":{"text":"D","offset":-29.5,"dx":-71},
      "data":{"name":"car"},
      "layer":[
       {"mark":{"type":"bar","strokeWidth":1},
        "encoding":{
         "x":{"field":"group","type":"nominal","scale":{"domain":["NT","AUTO2 APRIL CAR RD","APRIL-28z RD","APRIL-41BBz RD","Tripril RD","APRIL CAR LD","bb2121 LD","LCAR-B38M LD","APRIL-28z LD","APRIL-41BBz LD"],"paddingInner":0.15,"paddingOuter":0.08},"axis":{"title":null,"labelAngle":-45,"labelFontSize":10.5,"tickSize":4}},
         "xOffset":{"field":"target","type":"nominal","scale":{"domain":["Effector alone","SUPT1 NT","SupT1 BCMAlo"],"paddingInner":0.25}},
         "y":{"aggregate":"mean","field":"value","type":"quantitative","scale":{"domain":[0,2500],"nice":false},"axis":{"values":[0,500,1000,1500,2000,2500],"format":"d","labelFontSize":11,"title":"Relative CAR cells","titleFontSize":10}},
         "fill":{"condition":[{"test":"datum.target == 'Effector alone'","value":"#ffffff"},{"test":"datum.target == 'SUPT1 NT'","value":"#d4d4d4"}],"value":"#fde3c4"},
         "stroke":{"condition":[{"test":"datum.target == 'Effector alone'","value":"#aaaaaa"},{"test":"datum.target == 'SUPT1 NT'","value":"#555555"}],"value":"#f2b36b"}}},
       {"mark":{"type":"point","filled":true,"size":40,"opacity":1},
        "encoding":{
         "x":{"field":"group","type":"nominal","axis":{"title":null,"labelAngle":-45,"labelFontSize":10.5,"tickSize":4}},
         "xOffset":{"field":"target","type":"nominal"},
         "y":{"field":"value","type":"quantitative","axis":{"values":[0,500,1000,1500,2000,2500],"format":"d","labelFontSize":11,"title":"Relative CAR cells","titleFontSize":10}},
         "color":{"field":"target","type":"nominal","scale":{"domain":["Effector alone","SUPT1 NT","SupT1 BCMAlo"],"range":["#999999","#000000","#f26a1b"]},"legend":{"orient":"none","legendX":200,"legendY":188,"title":null,"labelFontSize":13.3,"symbolSize":70,"rowPadding":5.5,"labelOffset":12,"padding":0}},
         "shape":{"field":"target","type":"nominal","scale":{"domain":["Effector alone","SUPT1 NT","SupT1 BCMAlo"],"range":["circle","square","triangle-up"]},"legend":{"orient":"none","legendX":200,"legendY":188,"title":null,"labelFontSize":13.3,"symbolSize":70,"rowPadding":5.5,"labelOffset":12,"padding":0}}}}
      ]
     }
    ]
   }
  ]
 }
]
}
